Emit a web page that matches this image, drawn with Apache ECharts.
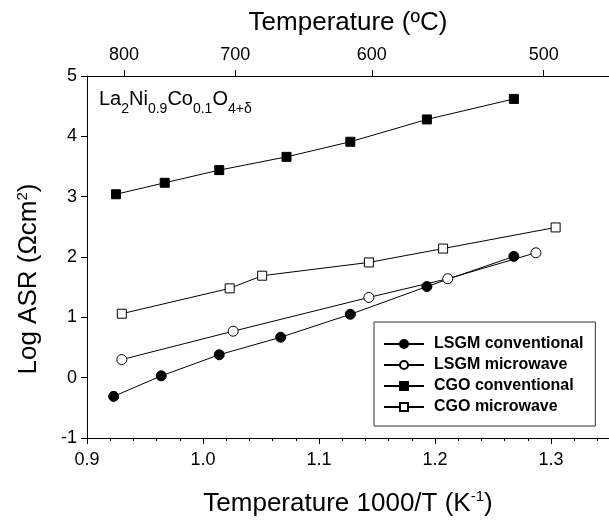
<!DOCTYPE html>
<html>
<head>
	<meta charset="utf-8">
	<title>Log ASR</title>
	<style>
		html, body {
			margin: 0;
			padding: 0;
			background-color: #fff;
		}
		#chart {
			width: 609px;
			height: 524px;
		}
	</style>
</head>
<body>
	<div id="chart"></div>
	<script src="https://cdn.jsdelivr.net/npm/echarts@6/dist/echarts.min.js"></script>
	<script>
	// 数据 (1000/T, log ASR)
	var lsgmConvX = [0.923, 0.964, 1.014, 1.067, 1.127, 1.193, 1.268];
	var lsgmConvY = [-0.31, 0.03, 0.38, 0.67, 1.05, 1.51, 2.01];
	var lsgmMicroX = [0.930, 1.026, 1.143, 1.211, 1.287];
	var lsgmMicroY = [0.30, 0.77, 1.33, 1.64, 2.07];
	var cgoConvX = [0.925, 0.967, 1.014, 1.072, 1.127, 1.193, 1.268];
	var cgoConvY = [3.04, 3.23, 3.44, 3.66, 3.91, 4.28, 4.62];
	var cgoMicroX = [0.930, 1.023, 1.051, 1.143, 1.207, 1.304];
	var cgoMicroY = [1.06, 1.48, 1.69, 1.91, 2.14, 2.49];

	var seriesNames = ['LSGM conventional', 'LSGM microwave', 'CGO conventional', 'CGO microwave'];

	// 刻度
	var bottomTicks = [0.9, 1.0, 1.1, 1.2, 1.3];
	var topTicksC = [800, 700, 600, 500];

	var font = "'Liberation Sans', Arial, sans-serif";

	function pairs(xs, ys) {
		var out = [];
		for (var i = 0; i < xs.length; i++) out.push([xs[i], ys[i]]);
		return out;
	}

	// 小刻度 0.02
	var minorTicks = [];
	for (var k = 0; k <= 22; k++) {
		var v = Math.round((0.9 + k * 0.02) * 100) / 100;
		if (k % 5 !== 0) minorTicks.push(v);
	}
	var topTickVals = topTicksC.map(function (t) { return 1000 / (t + 273); });

	function makeSeries(name, xs, ys, symbol, filled) {
		return {
			name: name,
			type: 'line',
			xAxisIndex: 0,
			data: pairs(xs, ys),
			symbol: symbol,
			symbolSize: symbol === 'circle' ? 10 : 9,
			lineStyle: { color: '#000', width: 1 },
			itemStyle: {
				color: filled ? '#000' : '#fff',
				borderColor: '#000',
				borderWidth: 1
			},
			emphasis: { disabled: true },
			z: 3
		};
	}

	var myChart = echarts.init(document.getElementById('chart'), null, { renderer: 'canvas' });
	var option = {
		animation: false,
		backgroundColor: '#fff',
		textStyle: { fontFamily: font, color: '#000' },
		grid: { left: 87, right: 0, top: 76, bottom: 82 },
		legend: {
			orient: 'vertical',
			left: 374,
			top: 322,
			padding: [14, 12, 11, 9],
			itemGap: 5,
			itemWidth: 40,
			itemHeight: 10,
			borderColor: '#333',
			borderWidth: 1,
			backgroundColor: '#fff',
			textStyle: { fontFamily: font, fontSize: 16, fontWeight: 'bold', color: '#000', padding: [0, 0, 0, 5] },
			data: seriesNames
		},
		graphic: [{
			type: 'text',
			left: 99,
			top: 89,
			style: {
				text: '{m|La}{s|2}{m|Ni}{s|0.9}{m|Co}{s|0.1}{m|O}{s|4+δ}',
				rich: {
					m: { fontFamily: font, fontSize: 20, lineHeight: 34, color: '#000' },
					s: { fontFamily: font, fontSize: 14, lineHeight: 14, verticalAlign: 'bottom', color: '#000' }
				}
			}
		}],
		xAxis: [{
			type: 'value',
			position: 'bottom',
			min: 0.9,
			max: 1.35,
			axisLine: { onZero: false, lineStyle: { color: '#000', width: 1 } },
			axisTick: { customValues: bottomTicks, length: 6, lineStyle: { color: '#000' } },
			axisLabel: {
				customValues: bottomTicks,
				fontSize: 18, color: '#000', fontFamily: font, margin: 13,
				formatter: function (v) { return v.toFixed(1); }
			},
			splitLine: { show: false },
			name: 'Temperature 1000/T (K{sup|-1})',
			nameLocation: 'middle',
			nameGap: 51,
			nameTextStyle: {
				fontSize: 26, lineHeight: 30, color: '#000', fontFamily: font,
				rich: { sup: { fontSize: 15, lineHeight: 15, verticalAlign: 'top', fontFamily: font, color: '#000' } }
			}
		}, {
			type: 'value',
			position: 'top',
			min: 0.9,
			max: 1.35,
			axisLine: { onZero: false, lineStyle: { color: '#000', width: 1 } },
			axisTick: { customValues: topTickVals, length: 6, lineStyle: { color: '#000' } },
			axisLabel: {
				customValues: topTickVals,
				fontSize: 18, color: '#000', fontFamily: font, margin: 12,
				formatter: function (v) { return String(Math.round(1000 / v - 273)); }
			},
			splitLine: { show: false },
			name: 'Temperature (ºC)',
			nameLocation: 'middle',
			nameGap: 40,
			nameTextStyle: { fontSize: 26, color: '#000', fontFamily: font }
		}, {
			// 小刻度
			type: 'value',
			position: 'bottom',
			min: 0.9,
			max: 1.35,
			axisLine: { show: false, onZero: false },
			axisTick: { customValues: minorTicks, length: 3, lineStyle: { color: '#000' } },
			axisLabel: { show: false },
			splitLine: { show: false }
		}],
		yAxis: {
			type: 'value',
			min: -1,
			max: 5,
			interval: 1,
			axisLine: { show: true, onZero: false, lineStyle: { color: '#000', width: 1 } },
			axisTick: { show: true, length: 6, lineStyle: { color: '#000' } },
			axisLabel: { fontSize: 18, color: '#000', fontFamily: font, margin: 10 },
			splitLine: { show: false },
			name: 'Log ASR (Ωcm{sup|2})',
			nameLocation: 'middle',
			nameGap: 44,
			nameTextStyle: {
				fontSize: 26, lineHeight: 28, color: '#000', fontFamily: font,
				padding: [0, 44, 0, 0],
				rich: { sup: { fontSize: 15, lineHeight: 15, verticalAlign: 'top', fontFamily: font, color: '#000' } }
			}
		},
		series: [
			makeSeries(seriesNames[0], lsgmConvX, lsgmConvY, 'circle', true),
			makeSeries(seriesNames[1], lsgmMicroX, lsgmMicroY, 'circle', false),
			makeSeries(seriesNames[2], cgoConvX, cgoConvY, 'rect', true),
			makeSeries(seriesNames[3], cgoMicroX, cgoMicroY, 'rect', false)
		]
	};
	myChart.setOption(option);
	</script>
</body>
</html>
